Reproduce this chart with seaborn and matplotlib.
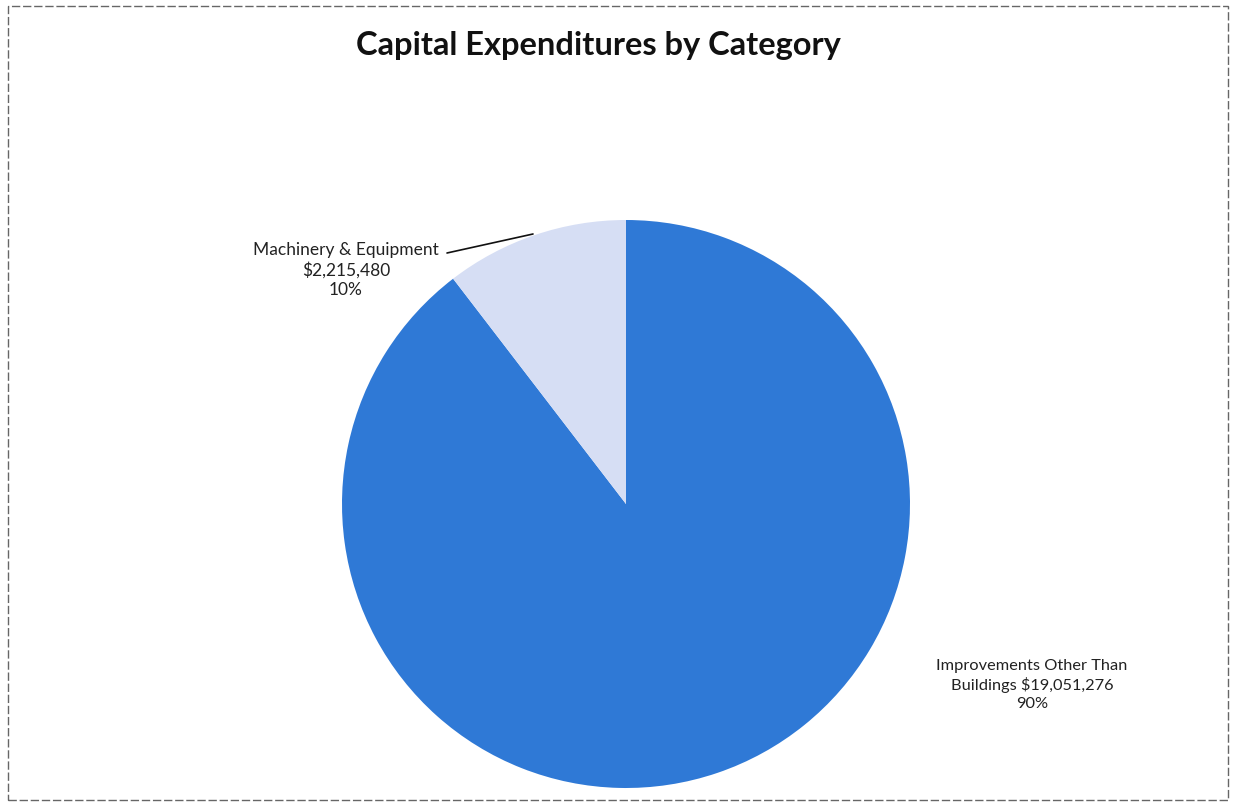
import matplotlib
matplotlib.use("Agg")
import matplotlib.pyplot as plt
import seaborn as sns
from matplotlib.patches import Rectangle

categories = ["Improvements Other Than Buildings", "Machinery & Equipment"]
values = [19051276, 2215480]
percent_labels = ["90%", "10%"]
colors = ["#2F79D6", "#D6DEF4"]

sns.set_theme(style="white")
plt.rcParams['font.family'] = ['Lato', 'DejaVu Sans']

fig = plt.figure(figsize=(12.33, 8.08), dpi=100)
fig.patch.set_facecolor("white")

W, H = 1233, 808
cx, cy, r = 626, 504, 284
ax = fig.add_axes([(cx - r) / W, (H - cy - r) / H, 2 * r / W, 2 * r / H])
wedges, _ = ax.pie(values, colors=colors, startangle=90, counterclock=False,
                   radius=1, wedgeprops=dict(linewidth=0))
ax.set_xlim(-1, 1)
ax.set_ylim(-1, 1)
ax.set_aspect('equal')
ax.axis('off')

def px(x, y):
    return x / W, 1 - y / H

# Title
fig.text(*px(598, 46), "Capital Expenditures by Category", ha='center', va='center',
         fontsize=23.5, fontweight='bold', color='#111111')

# Labels
fig.text(*px(1032, 685), f"Improvements Other Than\nBuildings ${values[0]:,}\n{percent_labels[0]}",
         ha='center', va='center', fontsize=11.8, color='#222222', linespacing=1.3)
fig.text(*px(346, 270), f"Machinery & Equipment\n${values[1]:,}\n{percent_labels[1]}",
         ha='center', va='center', fontsize=12.5, color='#222222', linespacing=1.25)

# Leader line
fig.add_artist(plt.Line2D([447 / W, 533 / W], [1 - 253 / H, 1 - 234 / H],
                          color='#111111', lw=1.2, transform=fig.transFigure))

# Border
fig.add_artist(Rectangle((8 / W, 1 - 800 / H), (1228 - 8) / W, (800 - 6) / H,
                         transform=fig.transFigure, fill=False, edgecolor='#666666',
                         lw=1, linestyle=(0, (6, 2))))

fig.savefig("out.png", dpi=100, facecolor="white")
